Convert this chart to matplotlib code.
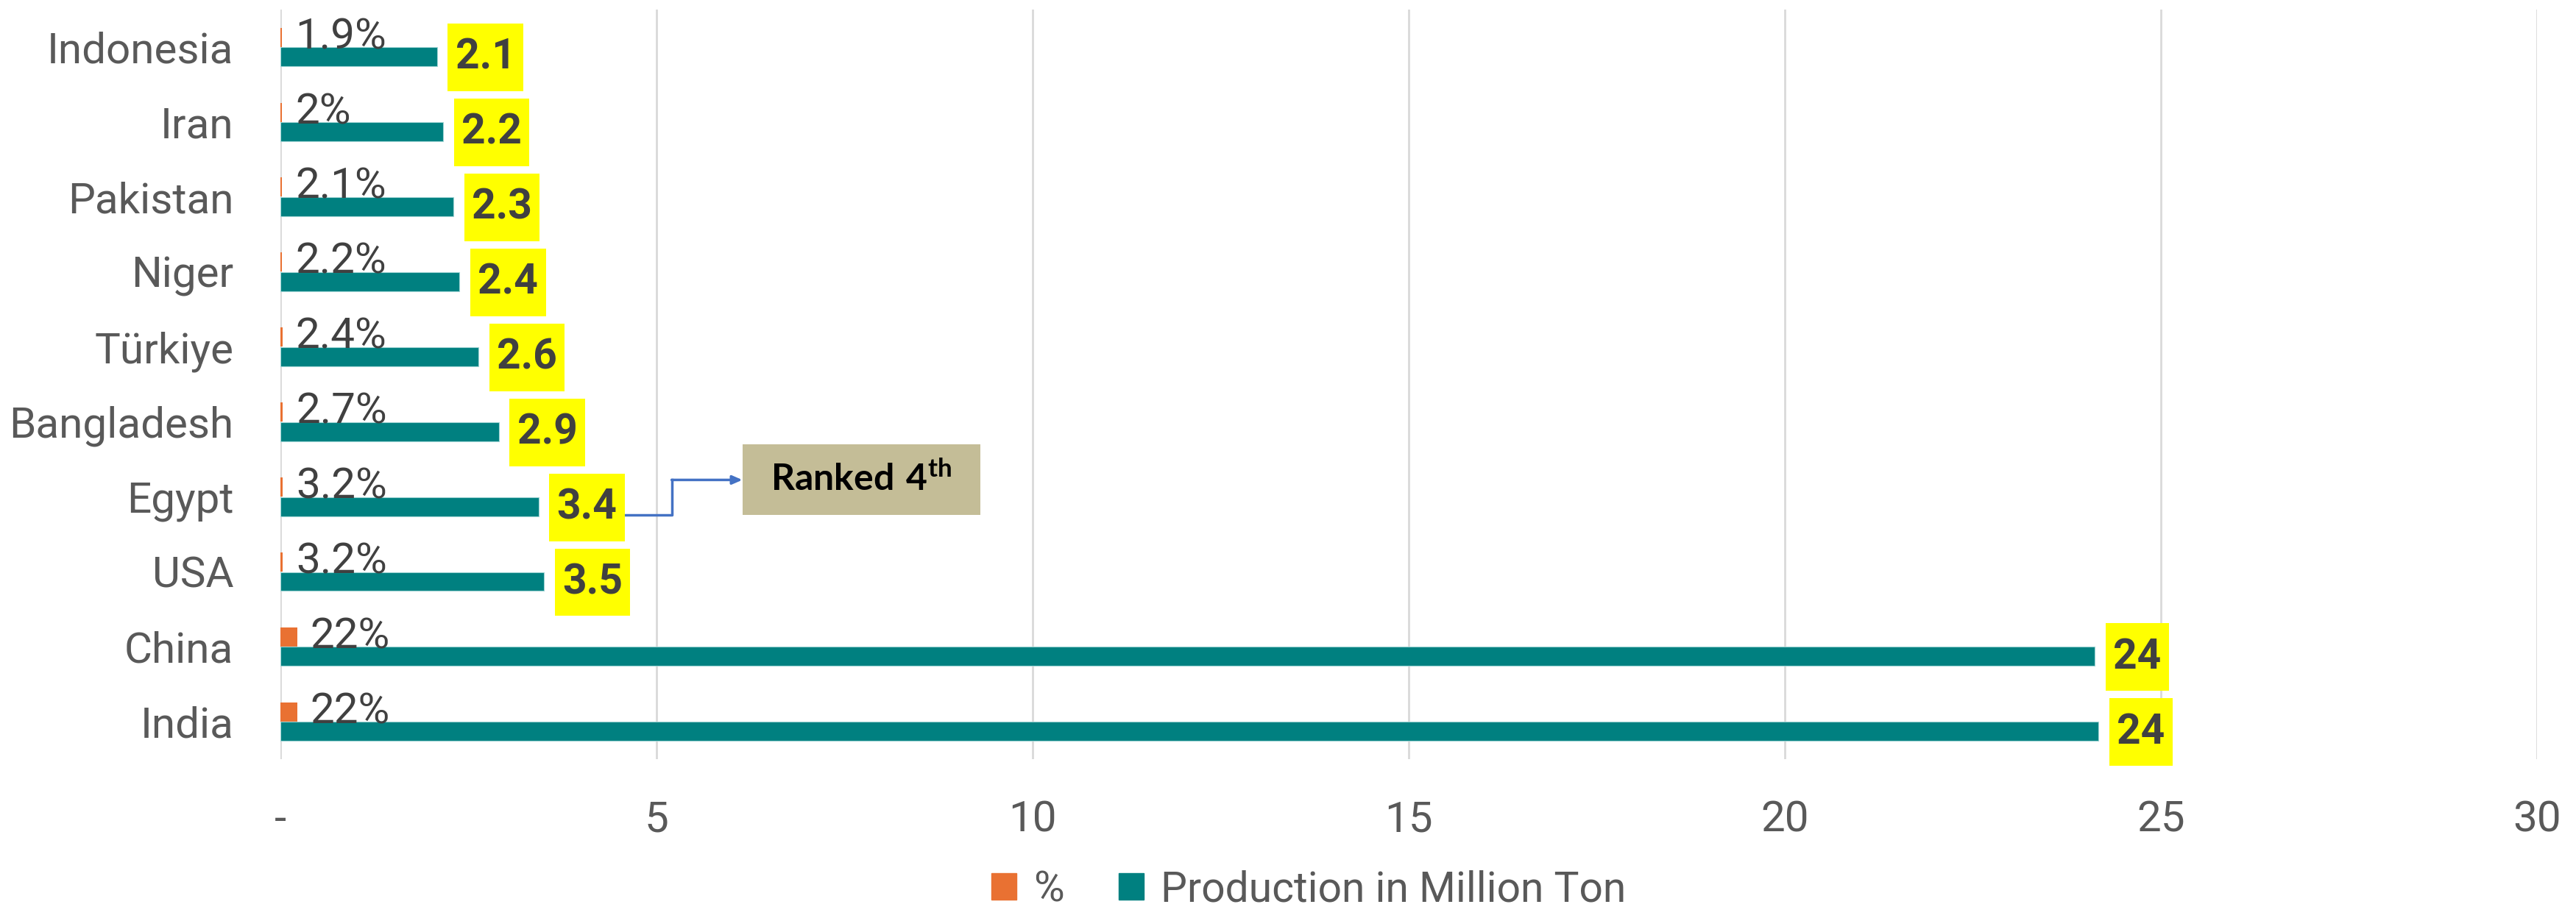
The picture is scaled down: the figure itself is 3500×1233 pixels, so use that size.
import matplotlib
matplotlib.use("Agg")
import matplotlib.pyplot as plt
from matplotlib.patches import Rectangle, Patch
import numpy as np

countries = ["Indonesia", "Iran", "Pakistan", "Niger", "Türkiye",
             "Bangladesh", "Egypt", "USA", "China", "India"]
production = [2.08, 2.16, 2.30, 2.38, 2.63, 2.90, 3.43, 3.50, 24.12, 24.17]
share = [0.019, 0.020, 0.021, 0.022, 0.024, 0.027, 0.032, 0.032, 0.22, 0.22]
prod_labels = ["2.1", "2.2", "2.3", "2.4", "2.6", "2.9", "3.4", "3.5", "24", "24"]
share_labels = ["1.9%", "2%", "2.1%", "2.2%", "2.4%", "2.7%", "3.2%", "3.2%", "22%", "22%"]
xticks = [0, 5, 10, 15, 20, 25, 30]
xtick_labels = ["-", "5", "10", "15", "20", "25", "30"]

narrow = ["Liberation Sans Narrow", "Roboto", "DejaVu Sans"]
plt.rcParams["font.family"] = narrow
plt.rcParams["mathtext.fontset"] = "custom"
plt.rcParams["mathtext.bf"] = "Lato:bold"
plt.rcParams["mathtext.rm"] = "Lato:bold"

teal = "#008080"
orange = "#E97132"
grey_txt = "#595959"
dark_txt = "#404040"

fig = plt.figure(figsize=(35, 12.33), dpi=100)
ax = fig.add_axes([0.1089, 0.163, 0.876, 0.8265])

y = np.arange(len(countries))
h = 0.255
ax.barh(y - 0.13, share, height=h, color=orange, zorder=3)
ax.barh(y + 0.13, production, height=h, color=teal, edgecolor="#9fd3d3",
        linewidth=0.8, zorder=3)

# percent labels
for yi, v, lab in zip(y, share, share_labels):
    ax.annotate(lab, (v, yi - 0.13), xytext=(13, 0), textcoords="offset points",
                ha="left", va="center", fontsize=42, color=dark_txt, zorder=5)

# production labels in yellow boxes
for yi, v, lab in zip(y, production, prod_labels):
    ax.annotate(lab, (v, yi + 0.14), xytext=(18, 0), textcoords="offset points",
                ha="left", va="center", fontsize=41, fontweight="bold", color=dark_txt,
                bbox=dict(boxstyle="square,pad=0.18", fc="#FFFF00", ec="none",
                          mutation_aspect=1.8), zorder=5)

ax.set_xlim(0, 30)
ax.set_ylim(9.5, -0.5)
ax.set_xticks(xticks)
ax.set_xticklabels(xtick_labels)
ax.set_yticks(y)
ax.set_yticklabels(countries)
ax.tick_params(axis="both", length=0, labelsize=42, colors=grey_txt)
ax.tick_params(axis="x", pad=40)
ax.tick_params(axis="y", pad=46)
ax.grid(axis="x", color="#D9D9D9", linewidth=2, zorder=0)
for s in ax.spines.values():
    s.set_visible(False)

# "Ranked 4th" callout for Egypt
ax.add_patch(Rectangle((6.14, 5.30), 3.16, 0.945, facecolor="#C4BD97",
                       edgecolor="none", zorder=4))
ax.text(7.72, 5.775, r"$\mathbf{Ranked\ 4^{th}}$", ha="center", va="center",
        fontsize=36, color="black", zorder=5)
ax.plot([4.51, 5.20, 5.20], [6.245, 6.245, 5.775], color="#4472C4", lw=2.5, zorder=4)
ax.annotate("", xy=(6.14, 5.775), xytext=(5.20, 5.775),
            arrowprops=dict(arrowstyle="-|>,head_length=0.8,head_width=0.35",
                            color="#4472C4", lw=2.5, shrinkA=0, shrinkB=0), zorder=4)

handles = [Patch(color=orange, label="%"), Patch(color=teal, label="Production in Million Ton")]
leg = fig.legend(handles=handles, loc="lower center", bbox_to_anchor=(0.508, -0.045),
                 ncol=2, frameon=False, fontsize=41, handlelength=0.6, handleheight=0.6,
                 handletextpad=0.4, columnspacing=1.3)
for t in leg.get_texts():
    t.set_color(grey_txt)

fig.savefig("out.png", dpi=100)
